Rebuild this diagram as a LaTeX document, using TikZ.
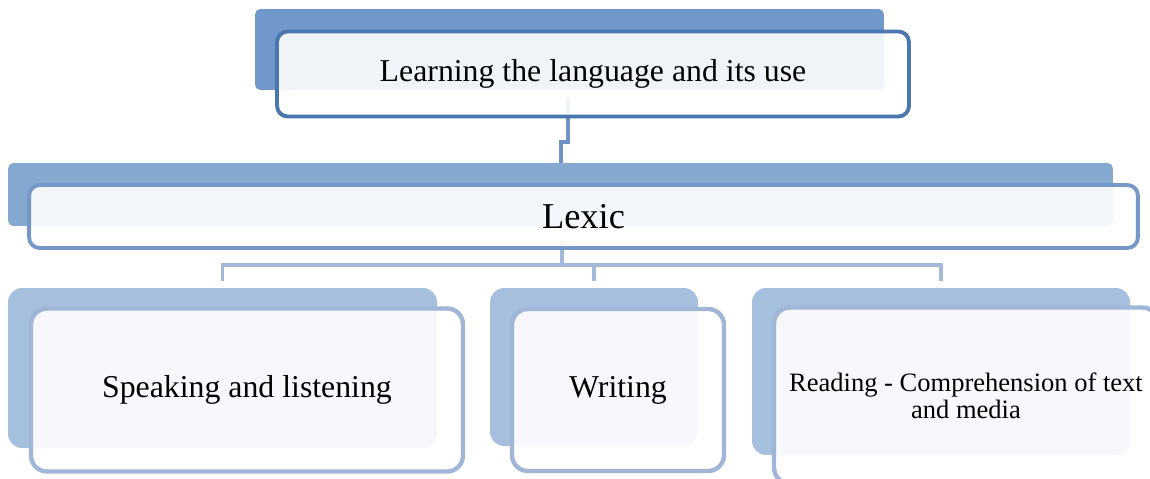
\documentclass[tikz,border=0pt]{standalone}
\usepackage{fontspec}
\setmainfont{Liberation Serif}
\usepackage{xcolor}
\usepackage{tikz}
\usetikzlibrary{positioning,calc}
\definecolor{topback}{RGB}{112,152,202}
\definecolor{topline}{RGB}{74,119,173}
\definecolor{lexback}{RGB}{133,168,208}
\definecolor{lexline}{RGB}{118,152,200}
\definecolor{subback}{RGB}{167,191,222}
\definecolor{subline}{RGB}{161,181,215}
\definecolor{toplink}{RGB}{111,147,198}
\definecolor{sublink}{RGB}{164,185,217}
\tikzstyle{backrect}=[rectangle, rounded corners=3pt, inner sep=0pt]
\tikzstyle{frontbox}=[rectangle, draw, line width=2.2pt, rounded corners=6pt, fill=white, fill opacity=0.9, text opacity=1, inner sep=0pt, align=center]
\tikzstyle{linkedge}=[line width=2.2pt]

\begin{document}
\begin{tikzpicture}[x=0.02cm,y=-0.02cm]
        \useasboundingbox (0,0) rectangle (1150,479);
        % back plates
        \node[backrect, fill=topback, minimum width=12.58cm, minimum height=1.62cm] (topb) at (569.5,49.5) {};
        \node[backrect, fill=lexback, minimum width=22.1cm, minimum height=1.26cm] (lexb) at (560.5,194.5) {};
        \node[backrect, fill=subback, rounded corners=8pt, minimum width=8.58cm, minimum height=3.2cm] (speakb) at (222.5,368) {};
        \node[backrect, fill=subback, rounded corners=8pt, minimum width=4.16cm, minimum height=3.16cm] (writeb) at (594,367) {};
        \node[backrect, fill=subback, rounded corners=8pt, minimum width=7.56cm, minimum height=3.34cm] (readb) at (941,371.5) {};
        % connectors
        \coordinate (t1) at (568,97);
        \coordinate (t2) at (561,142);
        \draw[linkedge, draw=toplink] (t1) |- (t2) -- (t2 |- lexb.north);
        \coordinate (bus) at (562,265);
        \draw[linkedge, draw=sublink] (562,240) coordinate (l1) -- (bus);
        \draw[linkedge, draw=sublink, shorten >=4pt, shorten <=4pt] (speakb.north) |- (bus) -| (readb.north);
        \draw[linkedge, draw=sublink, shorten <=4pt] (writeb.north) -- (writeb.north |- bus);
        % front boxes
        \node[frontbox, draw=topline, minimum width=12.64cm, minimum height=1.70cm, font=\fontsize{18.1}{21}\selectfont] (top) at (593,74) {Learning the language and its use};
        \node[frontbox, draw=lexline, minimum width=22.18cm, minimum height=1.26cm, font=\fontsize{20.7}{24}\selectfont] (lex) at (583.5,216.5) {Lexic};
        \node[frontbox, draw=subline, line width=2.5pt, rounded corners=9pt, minimum width=8.64cm, minimum height=3.26cm, font=\fontsize{18.1}{21}\selectfont] (speak) at (247,390) {Speaking and listening};
        \node[frontbox, draw=subline, line width=2.5pt, rounded corners=9pt, minimum width=4.24cm, minimum height=3.24cm, font=\fontsize{18.1}{21}\selectfont] (write) at (618,390) {Writing};
        \node[frontbox, draw=subline, line width=2.5pt, rounded corners=9pt, minimum width=7.68cm, minimum height=3.52cm, font=\fontsize{15.1}{15.5}\selectfont] (read) at (966,395.5) {Reading - Comprehension of text\\and media};
      \end{tikzpicture}
\end{document}
